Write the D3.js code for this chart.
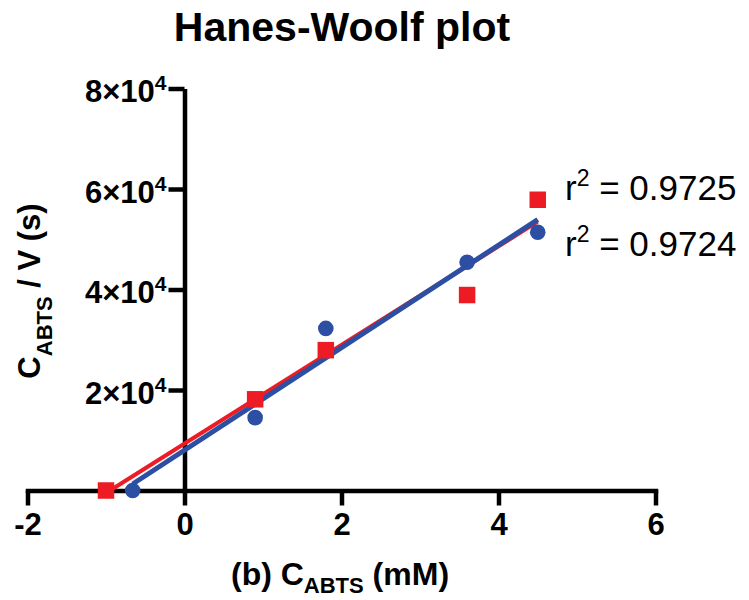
<!DOCTYPE html>
<html>
<head>
<meta charset="utf-8">
<script src="https://cdn.jsdelivr.net/npm/d3@7"></script>
<style>
  html, body { margin: 0; padding: 0; background: #fff; }
  svg { display: block; font-family: "Liberation Sans", Arial, sans-serif; }
</style>
</head>
<body>
<svg id="chart" width="749" height="600"></svg>
<script>
// ---- data ----
const xTicks = [-2, 0, 2, 4, 6];
const yTicks = [20000, 40000, 60000, 80000];
const yTickLabels = ["2", "4", "6", "8"];   // mantissa of n×10^4

const redX = [-1.0, 0.9, 1.8, 3.6, 4.5];
const redY = [0, 18150, 27930, 38900, 57860];
const blueX = [-0.66, 0.9, 1.8, 3.6, 4.5];
const blueY = [0, 14500, 32260, 45420, 51400];

const r2Labels = ["0.9725", "0.9724"];

const RED = "#ED1C24";
const BLUE = "#2C4FA3";

// ---- scales ----
const svg = d3.select("#chart");
const x = d3.scaleLinear().domain([-2, 6]).range([27.5, 655.5]);
const y = d3.scaleLinear().domain([0, 80000]).range([490.5, 88.5]);

// ---- title ----
svg.append("text")
  .attr("x", 342).attr("y", 41)
  .attr("text-anchor", "middle")
  .attr("font-size", 41).attr("font-weight", "bold")
  .text("Hanes-Woolf plot");

// ---- axes ----
const xAxis = d3.axisBottom(x).tickValues(xTicks).tickSize(15).tickSizeOuter(0).tickPadding(7)
  .tickFormat(d3.format("d"));
const gx = svg.append("g").attr("transform", `translate(0,${y(0)})`).call(xAxis);
gx.select(".domain").attr("stroke", "#000").attr("stroke-width", 4.5).attr("stroke-linecap", "square");
gx.selectAll(".tick line").attr("stroke", "#000").attr("stroke-width", 4.5);
gx.selectAll(".tick text").attr("font-size", 31).attr("font-weight", "bold")
  .attr("font-family", "Liberation Sans, Arial, sans-serif").attr("fill", "#000")
  .text(d => d < 0 ? "-" + Math.abs(d) : d);

const yAxis = d3.axisLeft(y).tickValues(yTicks).tickSize(16).tickSizeOuter(0).tickPadding(2);
const gy = svg.append("g").attr("transform", `translate(${x(0)},0)`).call(yAxis);
gy.select(".domain").attr("stroke", "#000").attr("stroke-width", 4.5);
gy.selectAll(".tick line").attr("stroke", "#000").attr("stroke-width", 4.5);
gy.selectAll(".tick text").each(function(d, i) {
  const t = d3.select(this);
  t.text(null)
    .attr("font-size", 31).attr("font-weight", "bold")
    .attr("font-family", "Liberation Sans, Arial, sans-serif").attr("fill", "#000")
    .attr("dy", "0.42em");
  t.append("tspan").text(yTickLabels[i] + "×10");
  t.append("tspan").attr("font-size", 21).attr("dy", -12).text("4");
});

// ---- regression (least squares over each series) ----
function fit(xs, ys) {
  const mx = d3.mean(xs), my = d3.mean(ys);
  let sxy = 0, sxx = 0;
  xs.forEach((v, i) => { sxy += (v - mx) * (ys[i] - my); sxx += (v - mx) * (v - mx); });
  const m = sxy / sxx, b = my - m * mx;
  const [x0, x1] = d3.extent(xs);
  return [[x0, m * x0 + b], [x1, m * x1 + b]];
}
const line = d3.line().x(d => x(d[0])).y(d => y(d[1]));

svg.append("path").datum(fit(redX, redY))
  .attr("d", line).attr("fill", "none").attr("stroke", RED).attr("stroke-width", 4);
svg.append("path").datum(fit(blueX, blueY))
  .attr("d", line).attr("fill", "none").attr("stroke", BLUE).attr("stroke-width", 5);

// ---- markers ----
const redPts = redX.map((v, i) => [v, redY[i]]);
const bluePts = blueX.map((v, i) => [v, blueY[i]]);
const sq = 16.5;
svg.append("g").selectAll("rect").data(redPts).join("rect")
  .attr("x", d => x(d[0]) - sq / 2).attr("y", d => y(d[1]) - sq / 2)
  .attr("width", sq).attr("height", sq).attr("fill", RED);
svg.append("g").selectAll("circle").data(bluePts).join("circle")
  .attr("cx", d => x(d[0])).attr("cy", d => y(d[1])).attr("r", 7.8).attr("fill", BLUE);

// ---- r² labels ----
[[565, 200], [565, 256]].forEach((p, i) => {
  const t = svg.append("text")
    .attr("x", p[0]).attr("y", p[1])
    .attr("font-size", 35).attr("fill", "#000");
  t.append("tspan").text("r");
  t.append("tspan").attr("font-size", 23).attr("dy", -14).text("2");
  t.append("tspan").attr("dy", 14).text(" = " + r2Labels[i]);
});

// ---- axis titles ----
const xl = svg.append("text")
  .attr("x", 340).attr("y", 585).attr("text-anchor", "middle")
  .attr("font-size", 32).attr("font-weight", "bold");
xl.append("tspan").text("(b) C");
xl.append("tspan").attr("font-size", 22).attr("dy", 8).text("ABTS");
xl.append("tspan").attr("dy", -8).text(" (mM)");

const yl = svg.append("text")
  .attr("transform", "translate(40,291) rotate(-90)").attr("text-anchor", "middle")
  .attr("font-size", 31).attr("font-weight", "bold");
yl.append("tspan").text("C");
yl.append("tspan").attr("font-size", 22).attr("dy", 12).text("ABTS");
yl.append("tspan").attr("dy", -12).text(" / V (s)");
</script>
</body>
</html>
